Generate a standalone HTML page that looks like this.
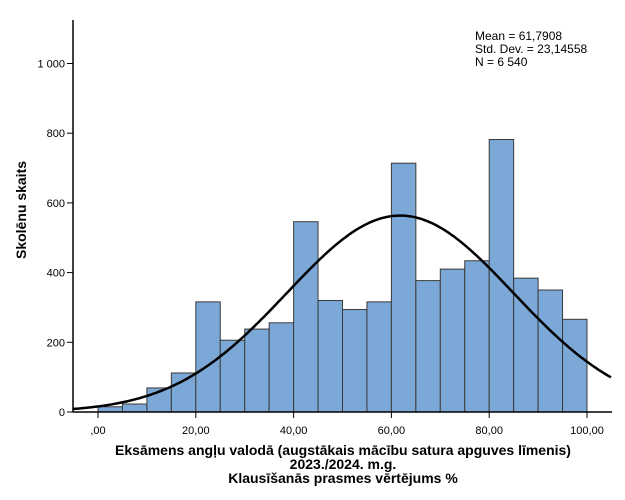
<!DOCTYPE html>
<html><head><meta charset="utf-8"><style>
body{margin:0;background:#fff;}
svg{display:block;font-family:"Liberation Sans",sans-serif;}
</style></head><body>
<svg id="c" width="625" height="500">
<g id="bars"></g>
<path id="curve" fill="none" stroke="#000" stroke-width="2.5"/>
<g id="axes"></g>
<text x="475" y="40" font-size="12">Mean = 61,7908</text>
<text x="475" y="53" font-size="12">Std. Dev. = 23,14558</text>
<text x="475" y="66" font-size="12">N = 6 540</text>
<text transform="translate(26,210) rotate(-90)" text-anchor="middle" font-size="14" font-weight="bold">Skolēnu skaits</text>
<g font-size="14" font-weight="bold" text-anchor="middle">
<text x="343" y="455">Eksāmens angļu valodā (augstākais mācību satura apguves līmenis)</text>
<text x="343" y="469">2023./2024. m.g.</text>
<text x="343" y="483">Klausīšanās prasmes vērtējums %</text>
</g>
</svg>
<script>
const binStarts=[0,5,10,15,20,25,30,35,40,45,50,55,60,65,70,75,80,85,90,95];
const counts=[15,23,69,112,316,206,238,256,546,320,294,316,714,377,410,434,782,384,350,266];
const xTicks=[0,20,40,60,80,100];
const xTickLabels=[",00","20,00","40,00","60,00","80,00","100,00"];
const yTicks=[0,200,400,600,800,1000];
const yTickLabels=["0","200","400","600","800","1 000"];
const mean=61.7908, sd=23.14558, n=6540, binWidth=5;
const NS="http://www.w3.org/2000/svg";
const X=v=>98+v*4.89;
const Y=v=>412-v*0.3485;
const bars=document.getElementById('bars');
binStarts.forEach((b,i)=>{
 const r=document.createElementNS(NS,'rect');
 r.setAttribute('x',X(b));r.setAttribute('width',X(b+binWidth)-X(b));
 r.setAttribute('y',Y(counts[i]));r.setAttribute('height',Y(0)-Y(counts[i]));
 r.setAttribute('fill','#7BA8D6');r.setAttribute('stroke','#3a3a3a');r.setAttribute('stroke-width','1');
 
 
 bars.appendChild(r);
});
let d='';
for(let v=-5.1;v<=105.1;v+=0.5){
 const p=n*binWidth/(sd*Math.sqrt(2*Math.PI))*Math.exp(-0.5*((v-mean)/sd)**2);
 d+=(d?'L':'M')+X(v).toFixed(1)+','+Y(p).toFixed(1);
}
document.getElementById('curve').setAttribute('d',d);
const ax=document.getElementById('axes');
function el(t,a,txt){const e=document.createElementNS(NS,t);for(const k in a)e.setAttribute(k,a[k]);if(txt!==undefined)e.textContent=txt;ax.appendChild(e);return e;}
el('line',{x1:73,y1:Y(0),x2:612,y2:Y(0),stroke:'#000','stroke-width':1.5});
el('line',{x1:73,y1:20,x2:73,y2:Y(0),stroke:'#000','stroke-width':1.5});
yTicks.forEach((t,i)=>{
 el('line',{x1:67,x2:73,y1:Y(t),y2:Y(t),stroke:'#000'});
 const tx=el('text',{x:65,y:Y(t)+4,'font-size':11,'text-anchor':'end'},yTickLabels[i]);
 
});
xTicks.forEach((t,i)=>{
 el('line',{x1:X(t),x2:X(t),y1:Y(0),y2:Y(0)+6,stroke:'#000'});
 const tx=el('text',{x:X(t),y:Y(0)+22,'font-size':11,'text-anchor':'middle'},xTickLabels[i]);
 
});
</script>
</body></html>
